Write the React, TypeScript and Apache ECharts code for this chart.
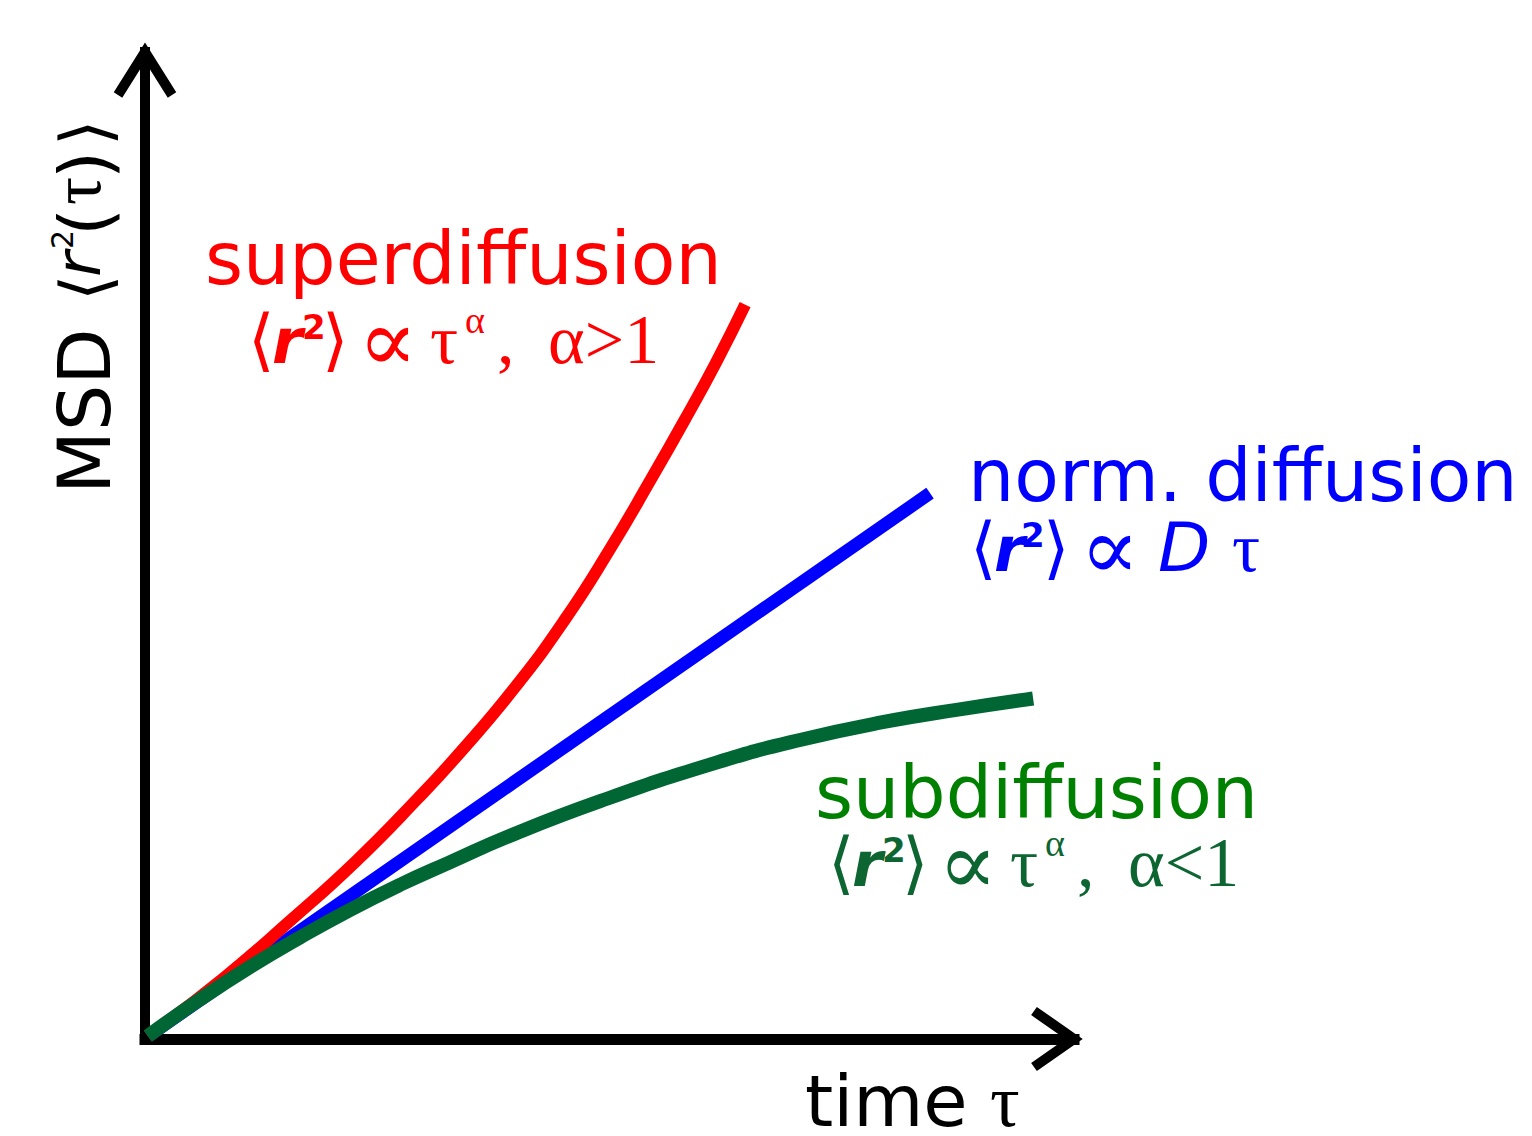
import React, { useEffect, useRef } from 'react';
import * as echarts from 'echarts';

// ---------- data ----------
const RED_TAU = [0.03, 0.85, 1.59, 2.27, 2.94, 3.37, 3.98, 4.52, 4.99, 5.44, 5.82, 6.15, 6.46];
const RED_MSD = [0.03, 0.62, 1.22, 1.8, 2.44, 2.88, 3.56, 4.25, 4.94, 5.66, 6.29, 6.86, 7.44];
const BLUE_TAU = [0.05, 8.45];
const BLUE_MSD = [0.04, 5.53];
const GREEN_TAU = [0.03, 0.59, 1.13, 1.67, 2.21, 2.74, 3.28, 3.93, 4.9, 6.15, 7.05, 7.94, 8.77, 9.56];
const GREEN_MSD = [0.03, 0.4, 0.73, 1.03, 1.31, 1.56, 1.79, 2.06, 2.41, 2.8, 3.03, 3.21, 3.34, 3.45];

const X_MIN = 0;
const X_MAX = 10;
const Y_MIN = 0;
const Y_MAX = 10;

const TITLES = ['superdiffusion', 'norm. diffusion', 'subdiffusion'];
const X_NAME = ['time', 'τ'];
const Y_NAME = ['MSD', '⟨', 'r', '2', '(', 'τ', ')', '⟩'];

const RED = '#ff0000';
const BLUE = '#0000ff';
const GREEN_LINE = '#006633';
const GREEN_TITLE = '#008000';
const GREEN_FORM = '#0d6631';

const SANS = "'DejaVu Sans', Verdana, sans-serif";
const SERIF = "'Liberation Serif', 'DejaVu Serif', 'Times New Roman', serif";

const zip = (a: number[], b: number[]) => a.map((v, i) => [v, b[i]]);

type TOpts = {
  size: number;
  family?: string;
  color?: string;
  italic?: boolean;
  bold?: boolean;
};

function txt(x: number, baseline: number, text: string, o: TOpts) {
  const family = o.family || SANS;
  const k = family === SERIF ? 0.34 : 0.35;
  return {
    type: 'text',
    x,
    y: baseline - k * o.size,
    silent: true,
    z: 10,
    style: {
      text,
      fill: o.color || '#000',
      fontSize: o.size,
      fontFamily: family,
      fontStyle: o.italic ? 'italic' : 'normal',
      fontWeight: o.bold ? 'bold' : 'normal',
      align: 'left',
      verticalAlign: 'middle',
      textAlign: 'left',
      textVerticalAlign: 'middle',
    },
  };
}

function bracketR2(x0: number, b: number, color: string, supDx: number, closeDx: number) {
  return [
    txt(x0, b, '⟨', { size: 68, color }),
    txt(x0 + 24, b, 'r', { size: 62, color, italic: true, bold: true }),
    txt(x0 + supDx, b - 24, '2', { size: 34, color, bold: true }),
    txt(x0 + closeDx, b, '⟩', { size: 68, color }),
    txt(x0 + 110, b + 8, '∝', { size: 88, color, family: SERIF }),
  ];
}

function powerFormula(x0: number, b: number, color: string, rel: string) {
  return [
    ...bracketR2(x0, b, color, 54, 74),
    txt(x0 + 182, b, 'τ', { size: 70, color, family: SERIF }),
    txt(x0 + 217, b - 30, 'α', { size: 38, color, family: SERIF }),
    txt(x0 + 249, b, ',', { size: 70, color, family: SERIF }),
    txt(x0 + 300, b, rel, { size: 70, color, family: SERIF }),
  ];
}

function linearFormula(x0: number, b: number, color: string) {
  return [
    ...bracketR2(x0, b, color, 51, 73),
    txt(x0 + 188, b, 'D', { size: 68, color, italic: true }),
    txt(x0 + 262, b, 'τ', { size: 70, color, family: SERIF }),
  ];
}

export default function App() {
  const ref = useRef<HTMLDivElement>(null);

  useEffect(() => {
    document.body.style.margin = '0';
    if (!ref.current) return;
    const chart = echarts.init(ref.current, undefined, { renderer: 'svg' });

    const axisCommon = {
      type: 'value',
      axisTick: { show: false },
      axisLabel: { show: false },
      splitLine: { show: false },
    };

    const option = {
      animation: false,
      backgroundColor: '#ffffff',
      grid: { left: 145, top: 52, width: 929, height: 987 },
      xAxis: {
        ...axisCommon,
        min: X_MIN,
        max: X_MAX,
        axisLine: { show: true, onZero: false, lineStyle: { color: '#000', width: 11, cap: 'square' } },
      },
      yAxis: {
        ...axisCommon,
        min: Y_MIN,
        max: Y_MAX,
        axisLine: { show: true, onZero: false, lineStyle: { color: '#000', width: 10, cap: 'square' } },
      },
      series: [
        {
          name: 'norm. diffusion',
          type: 'line',
          data: zip(BLUE_TAU, BLUE_MSD),
          showSymbol: false,
          lineStyle: { color: BLUE, width: 13, cap: 'butt' },
          z: 2,
        },
        {
          name: 'superdiffusion',
          type: 'line',
          data: zip(RED_TAU, RED_MSD),
          smooth: 0.5,
          showSymbol: false,
          lineStyle: { color: RED, width: 12, cap: 'butt' },
          z: 3,
        },
        {
          name: 'subdiffusion',
          type: 'line',
          data: zip(GREEN_TAU, GREEN_MSD),
          smooth: 0.5,
          showSymbol: false,
          lineStyle: { color: GREEN_LINE, width: 14, cap: 'butt' },
          z: 4,
        },
      ],
      graphic: [
        // axis arrow heads
        {
          type: 'polyline',
          silent: true,
          z: 5,
          shape: { points: [[118, 95], [145, 52], [172, 95]] },
          style: { stroke: '#000', lineWidth: 10, fill: 'none', lineJoin: 'miter' },
        },
        {
          type: 'polyline',
          silent: true,
          z: 5,
          shape: { points: [[1034, 1011], [1074, 1039], [1034, 1067]] },
          style: { stroke: '#000', lineWidth: 10, fill: 'none', lineJoin: 'miter' },
        },
        // titles
        txt(205, 284, TITLES[0], { size: 73, color: RED }),
        txt(968, 501, TITLES[1], { size: 73, color: BLUE }),
        txt(815, 818, TITLES[2], { size: 73, color: GREEN_TITLE }),
        ...powerFormula(248, 363, RED, 'α>1'),
        ...linearFormula(970, 571, BLUE),
        ...powerFormula(828, 886, GREEN_FORM, 'α<1'),
        // x axis name
        txt(805, 1126, X_NAME[0], { size: 72 }),
        txt(990, 1126, X_NAME[1], { size: 74, family: SERIF }),
        // y axis name (rotated)
        {
          type: 'group',
          x: 110,
          y: 494,
          rotation: Math.PI / 2,
          children: [
            txt(0, 0, Y_NAME[0], { size: 73 }),
            txt(193, -1, Y_NAME[1], { size: 68 }),
            txt(217, -10, Y_NAME[2], { size: 62, italic: true }),
            txt(245, -37, Y_NAME[3], { size: 30 }),
            txt(258, 0, Y_NAME[4], { size: 72 }),
            txt(289, -10, Y_NAME[5], { size: 70, family: SERIF }),
            txt(315, 0, Y_NAME[6], { size: 72 }),
            txt(348, -1, Y_NAME[7], { size: 68 }),
          ],
        },
      ],
    };

    chart.setOption(option as any);
    return () => chart.dispose();
  }, []);

  return (
    <div
      ref={ref}
      style={{ position: 'absolute', left: 0, top: 0, width: 1532, height: 1136, overflow: 'hidden' }}
    />
  );
}
